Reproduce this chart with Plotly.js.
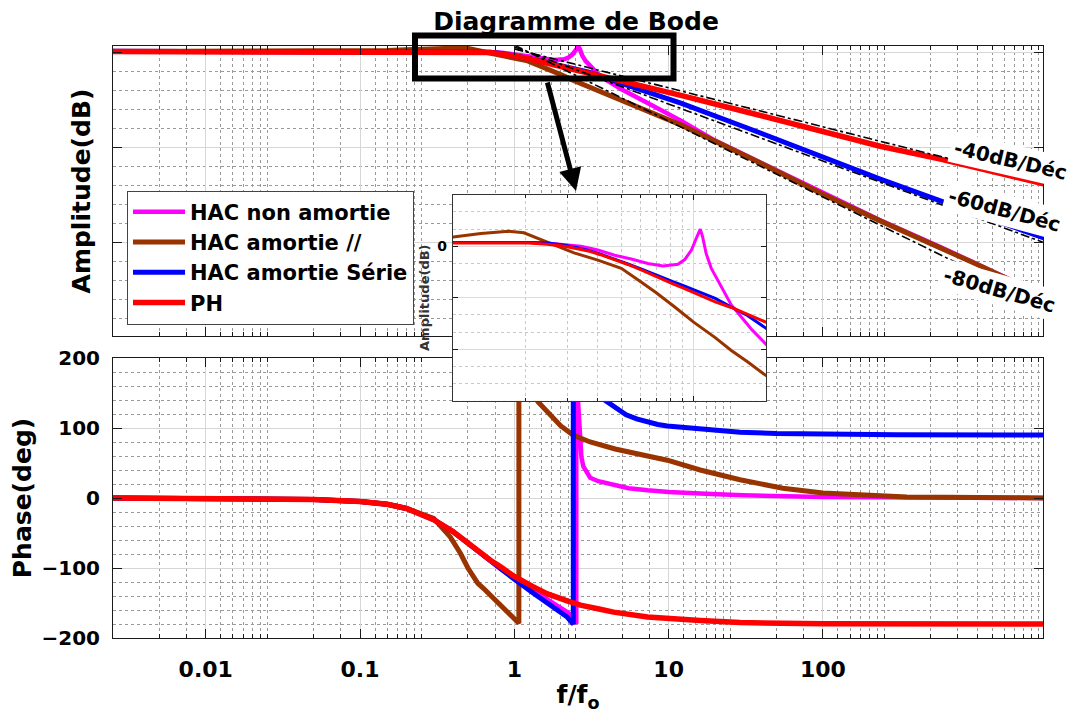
<!DOCTYPE html>
<html><head><meta charset="utf-8">
<script src="https://cdn.plot.ly/plotly-3.0.1.min.js"></script>
<style>html,body{margin:0;padding:0;background:#fff}#chart{width:1075px;height:715px}</style>
</head><body><div id="chart"></div>
<script>
// ---------- series names ----------
const seriesNames = ['HAC non amortie', 'HAC amortie //', 'HAC amortie Série', 'PH'];
const seriesColors = ['#ff00ff', '#993300', '#0000ff', '#ff0000'];

// ---------- magnitude (dB) vs f/fo ----------
const fMagenta = [0.0025, 0.01, 0.05, 0.1, 0.2, 0.3, 0.4, 0.5, 0.6, 0.7, 0.83, 0.975, 1.144, 1.342, 1.574, 1.82, 2.10, 2.24, 2.39, 2.50, 2.60, 2.66, 2.75, 2.89, 3.10, 3.28, 3.50, 3.89, 4.27, 4.91, 7, 12, 20, 32, 100, 235, 577, 1000, 2700];
const magMagenta = [1.4, 1.4, 1.4, 1.4, 1.5, 1.5, 1.5, 1.4, 1.2, 0.6, 0.0, -1.5, -3.5, -5.0, -6.7, -7.7, -7.0, -5.2, -1.5, 3.0, 6.6, 3.6, -2.8, -8.6, -13.8, -18.3, -22.8, -28.0, -32.5, -38.3, -51.3, -71.5, -92.5, -108.5, -148.5, -176.5, -204.5, -222.5, -255.5];

const fBrown = [0.0025, 0.01, 0.05, 0.1, 0.15, 0.2, 0.244, 0.318, 0.414, 0.48, 0.567, 0.66, 0.776, 0.975, 1.22, 1.43, 1.7, 2.03, 2.44, 3.0, 3.5, 4.1, 4.9, 7, 12, 32, 100, 235, 577, 1000, 2700];
const magBrown = [1.2, 1.2, 1.3, 1.7, 2.3, 3.0, 3.6, 4.9, 5.8, 5.2, 2.6, 0.0, -2.6, -5.4, -8.6, -13, -18, -23.5, -29.5, -35.5, -40.5, -45, -50.5, -61, -76, -109, -149, -177, -205, -223, -256];

const fBlue = [0.0025, 0.01, 0.05, 0.1, 0.2, 0.3, 0.4, 0.5, 0.6, 0.7, 0.8, 0.9, 1.0, 1.15, 1.3, 1.5, 1.7, 2.0, 2.2, 2.44, 2.7, 3.0, 3.5, 4.1, 4.9, 7, 12, 32, 100, 235, 577, 1000, 2700];
const magBlue = [1.4, 1.4, 1.4, 1.4, 1.5, 1.5, 1.5, 1.4, 1.2, 0.5, -0.6, -1.7, -3.1, -5.0, -6.9, -9.1, -11.2, -13.8, -15.2, -16.8, -18.4, -20.3, -23.6, -27.0, -32.0, -40.5, -53, -79, -110, -133, -156, -170, -195];

const fRed = [0.0025, 0.01, 0.05, 0.1, 0.2, 0.3, 0.4, 0.5, 0.6, 0.7, 0.8, 0.9, 1.0, 1.15, 1.3, 1.5, 1.7, 2.0, 2.2, 2.44, 2.7, 3.0, 3.5, 4.1, 4.9, 7, 12, 32, 100, 235, 577, 1000, 2700];
const magRed = [1.2, 1.2, 1.2, 1.2, 1.3, 1.3, 1.3, 1.2, 0.8, 0.1, -1.0, -2.0, -3.3, -5.2, -7.1, -9.5, -11.8, -14.6, -16.2, -18.0, -19.8, -21.6, -23.8, -26.6, -29.8, -36.3, -45, -62.4, -83, -98.5, -112, -121.5, -138];

// ---------- phase (deg) vs f/fo ----------
const fMagentaPh = [0.0025, 0.01, 0.05, 0.1, 0.15, 0.2, 0.3, 0.4, 0.5, 0.6, 0.7, 0.81, 1.0, 1.33, 1.64, 2.0, 2.2, 2.45, 2.52, 2.5201, 2.6, 2.66, 2.72, 2.8, 2.95, 3.1, 3.5, 4.4, 5.5, 7.3, 10, 16, 30, 100, 2700];
const phMagenta = [0, -0.3, -2, -5, -9, -15, -31, -48, -65, -79, -91, -101, -115, -133, -146, -158, -163, -172, -180, 180, 130, 85, 58, 45, 35, 29, 24, 19, 14, 11, 8.5, 6.5, 4, 1.5, 0];

const fBrownPh = [0.0025, 0.01, 0.05, 0.1, 0.15, 0.2, 0.3, 0.385, 0.447, 0.5, 0.58, 0.63, 0.81, 1.0, 1.07, 1.0701, 1.15, 1.3, 1.43, 1.64, 2.0, 2.4, 3.1, 4.5, 7.3, 9.8, 16, 29, 55, 100, 350, 2700];
const phBrown = [0, -0.3, -2, -5, -9, -15, -29, -56, -79, -100, -122, -129, -152, -172, -179, 180, 168, 150, 137, 123, 103, 90, 80, 70, 61, 54, 40, 26, 14, 7, 1.5, 0];

const fBluePh = [0.0025, 0.01, 0.05, 0.1, 0.15, 0.2, 0.3, 0.4, 0.5, 0.6, 0.7, 0.81, 1.0, 1.33, 1.64, 2.0, 2.2, 2.41, 2.4101, 2.6, 3.0, 3.5, 4.0, 4.6, 5.3, 6.2, 7.3, 8.5, 9.8, 12, 16, 22, 29, 50, 100, 300, 2700];
const phBlue = [0, -0.3, -2, -5, -9, -15, -31, -48, -65, -79, -91, -101, -116, -136, -150, -163, -170, -180, 180, 172, 158, 146, 137, 127, 119, 113, 108.5, 105, 103, 101.5, 99.5, 96, 94, 92, 91, 90.3, 90];

const fRedPh = [0.0025, 0.01, 0.05, 0.1, 0.15, 0.2, 0.3, 0.4, 0.5, 0.6, 0.7, 0.81, 1.0, 1.33, 1.64, 2.2, 2.68, 3.6, 4.4, 7.3, 10.7, 16, 29, 100, 2700];
const phRed = [0, -0.3, -2, -5, -9, -15, -31, -48, -65, -78, -89, -98, -112, -127, -137, -147, -153, -159, -163, -170, -173, -175, -178, -179.5, -180];

// ---------- asymptotes (dash-dot) ----------
const fAsym = [1, 2670];
const asym40 = [4, -136.5];
const asym60 = [6, -199.6];
const asym80 = [8, -266];
const slopeLabels = ['-40dB/Déc', '-60dB/Déc', '-80dB/Déc'];

// ---------- ticks ----------
const xTickVals = [0.01, 0.1, 1, 10, 100];
const xTickText = ['0.01', '0.1', '1', '10', '100'];
const phaseTicks = [-200, -100, 0, 100, 200];
const ampTicks = [0, -100, -200, -300];
const minorSteps = [1.25, 1.5, 1.75, 2, 2.25, 2.5, 5, 7.5];

// ---------- helpers ----------
const FONT = 'DejaVu Sans, Arial, sans-serif';
const BLACK = '#1a1a1a';
const GRID = '#d6d6d6';
const MINOR = '#9a9a9a';
const W = 1075, H = 715, L = 113, R = 1043, T = 46, B = 638;
const px = x => (x - L) / (R - L);
const py = y => (B - y) / (B - T);
function mainMinor() {
  const v = [];
  for (let e = -3; e <= 3; e++) minorSteps.forEach(k => v.push(k * Math.pow(10, e)));
  v.push(1000);
  return v;
}
function insetMinor(base) {
  const v = [];
  for (let e = -1; e <= 0; e++) for (let k = 2; k <= 9; k++) v.push(k * Math.pow(10, e) * base);
  return v;
}

const magF = [fMagenta, fBrown, fBlue, fRed];
const magV = [magMagenta, magBrown, magBlue, magRed];
const phF = [fMagentaPh, fBrownPh, fBluePh, fRedPh];
const phV = [phMagenta, phBrown, phBlue, phRed];
const mainWidth = [4.5, 5, 5, 5.5];

const traces = [];
for (let i = 0; i < 4; i++) {
  traces.push({x: magF[i], y: magV[i], type: 'scatter', mode: 'lines', name: seriesNames[i],
    line: {color: seriesColors[i], width: mainWidth[i]}, xaxis: 'x', yaxis: 'y', legendgroup: 's' + i});
}
[asym40, asym60, asym80].forEach(a => {
  traces.push({x: fAsym, y: a, type: 'scatter', mode: 'lines', showlegend: false, hoverinfo: 'skip',
    line: {color: '#000', width: 1.6, dash: 'dashdot'}, xaxis: 'x', yaxis: 'y'});
});
for (let i = 0; i < 4; i++) {
  traces.push({x: phF[i], y: phV[i], type: 'scatter', mode: 'lines', name: seriesNames[i], showlegend: false,
    line: {color: seriesColors[i], width: mainWidth[i]}, xaxis: 'x2', yaxis: 'y2', legendgroup: 's' + i});
}
for (let i = 0; i < 4; i++) {
  traces.push({x: magF[i], y: magV[i], type: 'scatter', mode: 'lines', name: seriesNames[i], showlegend: false,
    line: {color: seriesColors[i], width: 3}, xaxis: 'x3', yaxis: 'y3', legendgroup: 's' + i});
}

const baseAxis = {
  showline: true, linecolor: BLACK, linewidth: 1, mirror: 'ticks',
  ticks: 'inside', ticklen: 9, tickcolor: BLACK, tickwidth: 1,
  showgrid: true, gridcolor: GRID, gridwidth: 1, zeroline: false,
  tickfont: {family: FONT, size: 22, color: '#000', weight: 'bold'}
};
const xMinor = {tickmode: 'array', tickvals: mainMinor(), showgrid: true, gridcolor: MINOR, griddash: 'dot', gridwidth: 1, ticks: 'inside', ticklen: 4, tickcolor: BLACK};
const labelFont = {family: FONT, size: 20, color: '#000', weight: 'bold'};

const layout = {
  width: W, height: H,
  margin: {l: L, r: W - R, t: T, b: H - B, pad: 0},
  paper_bgcolor: '#fff', plot_bgcolor: '#fff',
  showlegend: true,
  title: {text: 'Diagramme de Bode', font: {family: FONT, size: 25, color: '#000', weight: 'bold'},
    xref: 'container', yref: 'container', x: 576 / W, xanchor: 'center', y: 1 - 21 / H, yanchor: 'middle'},
  xaxis: Object.assign({}, baseAxis, {domain: [0, 1], anchor: 'y', type: 'log', range: [-2.601, 3.426],
    tickvals: xTickVals, showticklabels: false, minor: xMinor}),
  yaxis: Object.assign({}, baseAxis, {domain: [py(336), 1], anchor: 'x', range: [-298.2, 7.05],
    tickvals: ampTicks, showticklabels: false,
    minor: {dtick: 20, showgrid: true, gridcolor: MINOR, griddash: 'dot', ticks: ''},
    title: {text: 'Amplitude(dB)', font: {family: FONT, size: 25, color: '#000', weight: 'bold'}, standoff: 14}}),
  xaxis2: Object.assign({}, baseAxis, {domain: [0, 1], anchor: 'y2', type: 'log', range: [-2.601, 3.426],
    tickvals: xTickVals, ticktext: xTickText, minor: xMinor, ticklabelstandoff: 12,
    title: {text: 'f/f<sub>o</sub>', font: {family: FONT, size: 25, color: '#000', weight: 'bold'}, standoff: 4}}),
  yaxis2: Object.assign({}, baseAxis, {domain: [0, py(358)], anchor: 'x2', range: [-200, 200],
    tickvals: phaseTicks, ticklabelstandoff: 8, tickfont: {family: FONT, size: 20, color: '#000', weight: 'bold'},
    minor: {dtick: 20, showgrid: true, gridcolor: MINOR, griddash: 'dot', ticks: ''},
    title: {text: 'Phase(deg)', font: {family: FONT, size: 25, color: '#000', weight: 'bold'}, standoff: 2}}),
  xaxis3: {domain: [px(452.7), px(766)], anchor: 'y3', type: 'log', range: [Math.log10(0.2427), Math.log10(4.88)],
    showline: true, linecolor: '#333', mirror: 'ticks', ticks: 'inside', ticklen: 5, tickcolor: BLACK,
    tickvals: [2.44], showticklabels: false, showgrid: true, gridcolor: '#dcdcdc', zeroline: false,
    minor: {tickmode: 'array', tickvals: insetMinor(0.244), showgrid: true, gridcolor: '#c8c8c8', griddash: 'dot', ticks: 'inside', ticklen: 3}},
  yaxis3: {domain: [py(400.7), py(194.7)], anchor: 'x3', range: [-60, 20],
    showline: true, linecolor: '#333', mirror: 'ticks', ticks: 'inside', ticklen: 5, tickcolor: BLACK,
    tickvals: [20, 0, -20, -40, -60], ticktext: [' ', '0', ' ', ' ', ' '], ticklabelstandoff: 2,
    tickfont: {family: FONT, size: 14, color: '#000', weight: 'bold'},
    showgrid: true, gridcolor: '#dcdcdc', zeroline: false,
    minor: {dtick: 20 / 3, showgrid: true, gridcolor: '#c8c8c8', griddash: 'dot', ticks: ''},
    title: {text: 'Amplitude(dB)', font: {family: FONT, size: 13, color: '#333', weight: 'bold'}, standoff: 4}},
  legend: {x: px(127), y: py(190.5), xanchor: 'left', yanchor: 'top', bgcolor: '#fff', bordercolor: '#444', borderwidth: 1,
    font: {family: FONT, size: 21, color: '#000', weight: 'bold'}, itemwidth: 52, tracegroupgap: 0},
  shapes: [
    {type: 'rect', xref: 'x3', yref: 'y3', x0: 0.01, x1: 100, y0: -200, y1: 200, fillcolor: '#fff', line: {width: 0}, layer: 'below'},
    {type: 'rect', xref: 'paper', yref: 'paper', x0: px(415), x1: px(673.5), y0: py(78.5), y1: py(35.5), line: {color: '#000', width: 6}, fillcolor: 'rgba(0,0,0,0)', layer: 'above'}
  ],
  annotations: [
    {xref: 'paper', yref: 'paper', x: px(576), y: py(191), ax: -29, ay: -110, showarrow: true, text: '', arrowhead: 2, arrowsize: 0.9, arrowwidth: 5, arrowcolor: '#000'},
    {xref: 'paper', yref: 'paper', x: px(1010), y: py(160), xanchor: 'center', yanchor: 'middle', text: slopeLabels[0], showarrow: false, textangle: 13, bgcolor: '#fff', borderpad: 3, font: labelFont},
    {xref: 'paper', yref: 'paper', x: px(1004), y: py(210), xanchor: 'center', yanchor: 'middle', text: slopeLabels[1], showarrow: false, textangle: 15, bgcolor: '#fff', borderpad: 3, font: labelFont},
    {xref: 'paper', yref: 'paper', x: px(999), y: py(290), xanchor: 'center', yanchor: 'middle', text: slopeLabels[2], showarrow: false, textangle: 16, bgcolor: '#fff', borderpad: 3, font: labelFont}
  ]
};

Plotly.newPlot('chart', traces, layout, {staticPlot: true, displayModeBar: false});
</script></body></html>
